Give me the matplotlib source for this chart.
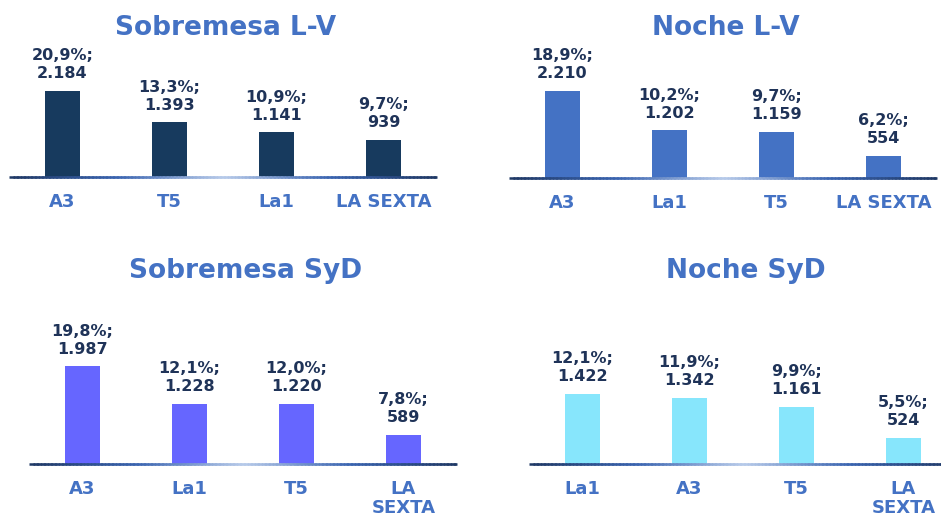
import matplotlib
matplotlib.use("Agg")
import matplotlib.pyplot as plt
import numpy as np
from matplotlib.collections import LineCollection
from matplotlib.colors import LinearSegmentedColormap

plt.rcParams['font.family'] = ['DejaVu Sans']

# ---------------- data ----------------
titles = ["Sobremesa L-V", "Noche L-V", "Sobremesa SyD", "Noche SyD"]

cats_sob_lv = ["A3", "T5", "La1", "LA SEXTA"]
share_sob_lv = [20.9, 13.3, 10.9, 9.7]
aud_sob_lv = [2184, 1393, 1141, 939]

cats_noc_lv = ["A3", "La1", "T5", "LA SEXTA"]
share_noc_lv = [18.9, 10.2, 9.7, 6.2]
aud_noc_lv = [2210, 1202, 1159, 554]

cats_sob_syd = ["A3", "La1", "T5", "LA\nSEXTA"]
share_sob_syd = [19.8, 12.1, 12.0, 7.8]
aud_sob_syd = [1987, 1228, 1220, 589]

cats_noc_syd = ["La1", "A3", "T5", "LA\nSEXTA"]
share_noc_syd = [12.1, 11.9, 9.9, 5.5]
aud_noc_syd = [1422, 1342, 1161, 524]

bar_colors = ["#173A5E", "#4472C4", "#6666FF", "#87E6FC"]

# ---------------- style ----------------
TITLE_COLOR = "#4472C4"
TICK_COLOR = "#4472C4"
VALUE_COLOR = "#1F3358"

W, H = 941, 516
fig = plt.figure(figsize=(W / 100, H / 100), dpi=100)

axis_cmap = LinearSegmentedColormap.from_list(
    "axisgrad",
    [(0.0, "#1F3864"), (0.25, "#3A64B0"), (0.5, "#B8CBEA"),
     (0.75, "#3A64B0"), (1.0, "#1F3864")])

# (x0, base, top, px-per-unit, title baseline)
layout = [
    (9, 177.2, 30, 0.0394, 35),
    (509, 177.6, 30, 0.0394, 35),
    (29, 463.8, 290, 0.049, 278),
    (529, 463.8, 290, 0.049, 278),
]
AX_W = 428

datasets = [
    (cats_sob_lv, share_sob_lv, aud_sob_lv),
    (cats_noc_lv, share_noc_lv, aud_noc_lv),
    (cats_sob_syd, share_sob_syd, aud_sob_syd),
    (cats_noc_syd, share_noc_syd, aud_noc_syd),
]


def fmt_thousands(v):
    return f"{v:,}".replace(",", ".")


def fmt_pct(p):
    return f"{p:.1f}%".replace(".", ",")


for k, ((cats, shares, auds), (x0, base, top, scale, tb)) in enumerate(zip(datasets, layout)):
    ax = fig.add_axes([x0 / W, 1 - base / H, AX_W / W, (base - top) / H])
    x = np.arange(len(cats))
    ax.bar(x, auds, width=0.32, color=bar_colors[k], zorder=2)
    ax.set_xlim(-0.5, len(cats) - 0.5)
    ax.set_ylim(0, (base - top) / scale)
    for xi, a, s in zip(x, auds, shares):
        ax.annotate(f"{fmt_pct(s)};\n{fmt_thousands(a)}", xy=(xi, a),
                    xytext=(0, 7), textcoords="offset points",
                    ha="center", va="bottom", fontsize=11.5, fontweight="bold",
                    color=VALUE_COLOR, linespacing=1.25)
    ax.set_xticks(x)
    ax.set_xticklabels(cats, fontsize=13, fontweight="bold", color=TICK_COLOR,
                       linespacing=1.1)
    ax.tick_params(axis="x", length=0, pad=11.5)
    ax.set_yticks([])
    for sp in ax.spines.values():
        sp.set_visible(False)
    # gradient baseline (overlapping segments so there are no gaps)
    n = 120
    xs = np.linspace(0, 1, n + 1)
    segs = [[(xs[i], 0), (min(xs[i + 1] + 0.006, 1.0), 0)] for i in range(n)]
    lc = LineCollection(segs, colors=axis_cmap((xs[:-1] + xs[1:]) / 2),
                        linewidths=1.8, transform=ax.transAxes, zorder=3,
                        clip_on=False, capstyle="butt")
    ax.add_collection(lc)
    ax.patch.set_alpha(0)

    cx = x0 + AX_W / 2 + 3
    fig.text(cx / W, 1 - tb / H, titles[k], ha="center", va="baseline",
             fontsize=19, fontweight="bold", color=TITLE_COLOR)

fig.savefig("out.png", dpi=100)
